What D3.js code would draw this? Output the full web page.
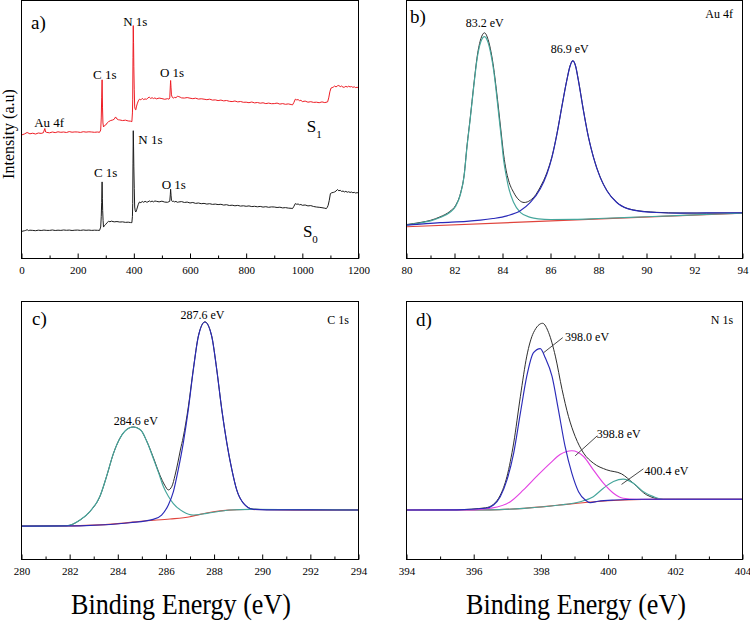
<!DOCTYPE html>
<html>
<head>
<meta charset="utf-8">
<script src="https://cdn.jsdelivr.net/npm/d3@7/dist/d3.min.js"></script>
<style>
	body { margin: 0; background: #fff; }
	svg { display: block; font-family: "Liberation Serif", "Times New Roman", serif; }
</style>
</head>
<body>
<svg id="chart" width="750" height="623"></svg>
<script>
"use strict";

// a) survey scans, [binding energy (eV), intensity (a.u.)]
const surveyS1 = [[0,123],[10,124],[20,125.5],[30,124.2],[40,124.8],[50,124],[60,125],[70,124.6],[78,125.3],[83,129.5],[86,126],[90,125.6],[100,125.2],[110,126],[120,125.4],[130,126.2],[140,125.7],[150,126],[160,125.5],[170,126.4],[180,125.8],[190,126.1],[200,126],[210,125.6],[220,126.3],[230,125.9],[240,126.2],[250,126],[260,125.7],[270,126],[278,125.7],[282,128],[284,140],[285.5,160],[287,178],[288.5,150],[290,135],[292,131],[296,132.5],[300,133],[305,135],[310,136.3],[318,137.5],[325,138],[330,138.7],[335,141],[340,139],[345,138.2],[350,138],[360,137.4],[370,137.8],[380,137],[388,136.8],[393,136.3],[395,145],[396,158],[397,200],[398,232],[399,215],[400,191],[401.5,168],[403,151],[405,148.5],[407,148],[409,151],[412,154],[416,157],[420,158.7],[425,158],[430,159.5],[435,158.3],[440,159],[445,158.5],[450,160],[455,160.7],[460,159.4],[465,160.2],[470,159.3],[475,160],[480,159],[490,159.8],[500,159.3],[510,158.6],[520,159.2],[525,158.7],[528,160],[530,172],[531,177.3],[532.5,170],[534,163],[537,160.5],[540,159.7],[545,160.5],[550,160.2],[555,161.5],[560,161.3],[565,160.7],[570,160],[580,159.8],[590,160.3],[600,159.7],[610,159.2],[620,159.7],[630,158.8],[640,159.1],[650,158.7],[660,158.2],[670,158.7],[680,157.8],[690,158],[700,157.3],[710,157.8],[720,157],[730,157.4],[740,156.6],[750,156.3],[760,156.9],[770,156],[780,156.4],[790,155.6],[800,155.7],[810,155.2],[820,155.9],[830,155],[840,155.4],[850,154.7],[860,155.1],[870,154.3],[880,154.8],[890,154.2],[900,154.3],[910,154.8],[920,153.8],[930,154.3],[940,153.6],[950,154],[960,153.4],[965,153],[970,155.5],[975,158.7],[980,158],[985,158.3],[990,157.2],[995,157.6],[1000,156.3],[1010,156.8],[1020,155.7],[1030,156.2],[1040,155.5],[1050,155.7],[1060,155.2],[1070,156],[1080,155.3],[1090,156],[1094,160],[1098,166],[1102,169.7],[1106,170.2],[1110,170.7],[1115,171.8],[1120,170.9],[1125,172],[1130,172.3],[1135,171.2],[1140,171.8],[1145,170.6],[1150,170.7],[1155,171.5],[1160,170.8],[1165,171.6],[1170,170.9],[1175,171.3],[1180,170.5],[1185,171],[1190,170.2],[1195,170.6],[1200,170]];
const surveyS0 = [[0,27],[10,27.6],[15,28],[20,28.7],[25,27.8],[30,28.2],[40,28],[50,27.7],[60,28.2],[70,27.9],[80,28.3],[90,28],[100,28],[110,28.4],[120,27.9],[130,28.2],[140,28],[150,28.4],[160,28.1],[170,28.3],[180,27.9],[190,28.2],[200,28.3],[210,28],[220,28.4],[230,28.1],[240,28.3],[250,28],[260,28.2],[270,28.1],[278,28],[282,31.3],[284,42],[285.5,56],[287,76.3],[288,60],[289,48],[290.5,38],[292,31.3],[296,33],[300,34],[305,35.8],[310,37],[315,36.6],[320,37.2],[330,36.5],[340,36.8],[350,36.3],[360,36.5],[370,36],[380,36.2],[388,35.8],[393,35.7],[395,42],[396,54.7],[397,95],[398,127.3],[399,112],[400,91.3],[401.5,70],[403,51.3],[405,47.5],[407,46.3],[410,48.5],[413,51.3],[416,54],[420,56.3],[425,55.6],[430,56.8],[435,56],[440,57],[445,56.2],[450,56.3],[455,57.4],[460,56.5],[465,57.2],[470,56.4],[475,57.3],[480,57],[490,56.4],[500,57.1],[510,56.2],[520,56],[525,56.6],[528,57],[530,64],[531,69],[532.5,63],[534,58],[537,56.8],[540,57.2],[545,56.4],[550,56.9],[555,56],[560,56.3],[570,56.7],[580,55.8],[590,56.2],[600,55.3],[610,55.8],[620,54.9],[630,55.3],[640,54.6],[650,54.9],[660,54.2],[670,54.6],[680,53.9],[690,54.2],[700,53.7],[710,54],[720,53.2],[730,53.6],[740,52.8],[750,53.1],[760,52.5],[770,52.9],[780,52.2],[790,52.5],[800,52],[810,52.4],[820,51.7],[830,52],[840,51.5],[850,51.9],[860,51.2],[870,51.6],[880,51],[890,51.4],[900,51.3],[910,50.8],[920,51.1],[930,50.4],[940,50.7],[950,50.2],[960,50],[965,49.7],[970,52],[975,54.7],[980,54],[985,54.3],[990,53.5],[995,53.8],[1000,53],[1010,53.3],[1020,52.4],[1030,52.7],[1040,51.8],[1050,51.3],[1060,51],[1070,50.6],[1080,50.1],[1085,49.7],[1088,50.5],[1092,53],[1096,58],[1100,64.7],[1105,65.5],[1110,65.8],[1115,66.3],[1120,67.2],[1125,68.7],[1130,67.5],[1135,67.9],[1140,66.8],[1145,67.2],[1150,66.3],[1155,66.9],[1160,66],[1165,66.5],[1170,65.8],[1175,66.2],[1180,65.5],[1185,65.9],[1190,65.2],[1195,65.6],[1200,65.3]];

// b) Au 4f fit
const au4fSum = [[80,33.8],[80.6,36],[81,38],[81.4,41.5],[81.8,46.8],[82.05,53],[82.25,65],[82.4,83],[82.52,112],[82.66,141],[82.8,172],[82.95,202],[83.1,219],[83.25,224.8],[83.4,218],[83.52,206],[83.63,190],[83.74,169],[83.84,148],[83.95,124],[84.05,103],[84.15,88],[84.25,78],[84.46,66],[84.7,58],[84.9,55.8],[85.16,58],[85.4,64],[85.57,71],[85.85,85.5],[86.06,101.5],[86.27,124.5],[86.47,151],[86.68,177.8],[86.82,192.3],[86.93,197],[87.04,192.3],[87.16,178],[87.37,148],[87.58,121.2],[87.79,101],[88.07,81.2],[88.35,67.8],[88.76,56],[89.45,48.4],[90.42,46],[91.4,45.3],[92.5,45.2],[94,45.3]];
const au4fBg = [[80,31.6],[94,45.2]];
const au4f72 = [[80,33.5],[80.6,35.5],[81,37.5],[81.4,40.8],[81.8,45.8],[82.05,52],[82.25,64],[82.4,82],[82.52,111],[82.66,140],[82.8,171],[82.95,200],[83.1,216],[83.25,221],[83.4,215],[83.52,203],[83.63,187.5],[83.74,166],[83.84,144],[83.95,120],[84.05,97.5],[84.15,83],[84.25,71],[84.46,56],[84.74,46],[85.16,41],[85.5,39.5],[86,38.8],[87,39],[88,39.8],[90,41.6],[92,43.4],[94,45.2]];
const au4f52 = [[80,33.3],[81.41,35.8],[82.5,37],[83.08,38.2],[83.6,39.8],[84.19,42.5],[84.74,47.5],[85.16,55.8],[85.57,69.2],[85.85,84.2],[86.06,100.8],[86.27,124.2],[86.47,150.8],[86.68,177.5],[86.82,192],[86.93,196.8],[87.04,192],[87.16,177.5],[87.37,147.5],[87.58,120.8],[87.79,100.8],[88.07,80.8],[88.35,67.5],[88.76,55.8],[89.45,48.2],[90.42,45.8],[91.4,45.2],[92.5,45.4],[94,45.6]];

// c) C 1s fit
const c1sSum = [[280,33.3],[281.87,33.6],[282.43,39.3],[282.85,48],[283.26,63],[283.55,84],[283.81,105],[284.05,119],[284.3,128],[284.64,132],[284.95,129],[285.2,118],[285.47,102],[285.75,84],[285.95,74],[286.1,69.3],[286.25,73],[286.38,84],[286.5,97],[286.6,109],[286.72,122],[286.93,152],[287.14,190],[287.35,223],[287.62,236.8],[287.9,222.8],[288.11,189.5],[288.32,149.5],[288.53,116.2],[288.74,89.5],[288.94,69.5],[289.22,56.2],[289.63,50.2],[290.19,49.7],[292,49.5],[294,49.4]];
const c1sBg = [[280,33.3],[282,33.4],[283,34.2],[284,35.8],[285.2,38.6],[286.17,40.3],[287,42.6],[287.42,45],[287.97,47.6],[288.6,49.2],[289.3,49.8],[290.5,49.6],[292,49.4],[294,49.3]];
const c1sCC = [[280,33.3],[281,33.3],[281.87,33.6],[282.43,39.3],[282.85,48],[283.26,63],[283.55,84],[283.81,105],[284.05,119],[284.3,128],[284.64,132],[284.95,129],[285.2,118],[285.47,101],[285.7,86],[285.89,73],[286.1,63],[286.3,56],[286.72,47.6],[287.14,44.3],[287.7,46],[288.66,49.3],[289.5,50],[291,49.8],[294,49.3]];
const c1sCN = [[280,33.3],[282.43,33.5],[284.5,36.6],[285.47,40],[285.82,44.3],[286.1,54.3],[286.31,67.6],[286.51,89.3],[286.72,116],[286.93,149.3],[287.14,189.3],[287.35,222.6],[287.62,236.6],[287.9,222.6],[288.11,189.3],[288.32,149.3],[288.53,116],[288.74,89.3],[288.94,69.3],[289.22,56],[289.63,50],[290.19,49.5],[292,49.4],[294,49.3]];

// d) N 1s fit
const n1sSum = [[394,49.3],[395.5,49.6],[396.35,51.5],[396.59,55],[396.79,64],[396.99,82.6],[397.19,116],[397.39,162.6],[397.58,202.6],[397.78,226],[398.05,235.3],[398.23,226],[398.43,202.6],[398.63,169.3],[398.82,142.6],[399.02,122.6],[399.27,106],[399.56,96],[399.96,89.3],[400.4,85.3],[400.75,76],[401.15,64.3],[401.64,60],[402,60],[404,60]];
const n1sBg = [[394,49.3],[396.5,49.5],[397.5,51],[398.5,54],[399.5,57.3],[400.5,59.3],[401.5,60],[402,60],[404,60]];
const n1s400 = [[394,49.3],[396.5,49.5],[397.5,51],[398.5,54],[399.17,57.6],[399.56,62.6],[399.86,71],[400.16,77.6],[400.45,80],[400.75,76],[401.05,67.6],[401.35,62.6],[401.64,60],[402,60],[404,60]];
const n1s398_8 = [[394,49.3],[396,49.5],[396.5,51],[397.09,57.6],[397.48,69.3],[397.88,83],[398.28,96],[398.57,104.5],[398.92,108.3],[399.27,102.6],[399.56,89.3],[399.86,76],[400.16,66],[400.45,61],[400.85,60],[402,60],[404,60]];
const n1s398_0 = [[394,49.3],[395.5,49.5],[396.35,51],[396.59,54.3],[396.79,62.6],[396.99,79.3],[397.19,106],[397.39,146],[397.58,182.6],[397.78,206],[397.98,210],[398.13,201],[398.33,182.6],[398.52,149.3],[398.72,112.6],[398.92,86],[399.12,67.6],[399.32,59.3],[399.47,56.6],[399.7,58],[400.2,59.3],[401,60],[402,60],[404,60]];

// tick values
const ticksA = [0, 200, 400, 600, 800, 1000, 1200], minorA = [100, 300, 500, 700, 900, 1100];
const ticksB = [80, 82, 84, 86, 88, 90, 92, 94], minorB = [81, 83, 85, 87, 89, 91, 93];
const ticksC = [280, 282, 284, 286, 288, 290, 292, 294], minorC = [281, 283, 285, 287, 289, 291, 293];
const ticksD = [394, 396, 398, 400, 402, 404], minorD = [395, 397, 399, 401, 403];

const col = {
	red: '#ee1d25', black: '#1c1c1c', sum: '#2e2e2e', bg: '#e0443c',
	teal: '#46a69c', blue: '#2a2ab8', magenta: '#e342e3'
};

!(function(){
	let svg = d3.select('#chart');

	let panels = [
		{ letter: 'a)', lx: 31, ly: 29, box: [21.5, 0.5, 358.5, 258.5], dom: [0, 1200], ticks: ticksA, minor: minorA, curve: d3.curveLinear,
		  lines: [[surveyS1, col.red], [surveyS0, col.black]] },
		{ letter: 'b)', lx: 410, ly: 23, box: [406.5, 0.5, 742.5, 258.5], dom: [80, 94], ticks: ticksB, minor: minorB, curve: d3.curveMonotoneX,
		  lines: [[au4fSum, col.sum], [au4fBg, col.bg], [au4f72, col.teal], [au4f52, col.blue]],
		  notes: [['83.2 eV', 83.26, 231, 'middle'], ['86.9 eV', 86.8, 205, 'middle'], ['Au 4f', 93.6, 239.5, 'end']] },
		{ letter: 'c)', lx: 32, ly: 325, box: [21.5, 301.5, 358.5, 559.5], dom: [280, 294], ticks: ticksC, minor: minorC, curve: d3.curveMonotoneX,
		  lines: [[c1sSum, col.sum], [c1sBg, col.bg], [c1sCC, col.teal], [c1sCN, col.blue]],
		  notes: [['287.6 eV', 287.52, 239.3, 'middle'], ['284.6 eV', 284.75, 134.3, 'middle'], ['C 1s', 293.6, 234.3, 'end']] },
		{ letter: 'd)', lx: 416, ly: 326, box: [406.5, 301.5, 742.5, 559.5], dom: [394, 404], ticks: ticksD, minor: minorD, curve: d3.curveMonotoneX,
		  lines: [[n1sSum, col.sum], [n1sBg, col.bg], [n1s400, col.teal], [n1s398_8, col.magenta], [n1s398_0, col.blue]],
		  notes: [['398.0 eV', 398.72, 217.6, 'start', [398.65, 221, 398.08, 206]],
				  ['398.8 eV', 399.66, 121.3, 'start', [399.68, 123.3, 399.02, 103.3]],
				  ['400.4 eV', 401.08, 84.3, 'start', [401.05, 90.3, 400.4, 74.8]],
				  ['N 1s', 403.72, 235, 'end']] }
	];

	panels.forEach((p) => {
		let [x0, y0, x1, y1] = p.box,
			x = d3.scaleLinear().domain(p.dom).range([x0, x1]),
			y = d3.scaleLinear().domain([0, 257]).range([y1, y0]),
			g = svg.append('g'),
			line = d3.line().x(d => x(d[0])).y(d => y(d[1])).curve(p.curve);

		p.lines.forEach(([data, c], i) => {
			g.append('path').datum(data)
				.attr('d', line)
				.attr('fill', 'none')
				.attr('stroke', c)
				.attr('stroke-width', (p.letter !== 'a)' && i > 0) ? 1.15 : 1)
				.attr('stroke-linejoin', 'round');
		});

		// frame
		g.append('rect')
			.attr('x', x0).attr('y', y0)
			.attr('width', x1 - x0).attr('height', y1 - y0)
			.attr('fill', 'none').attr('stroke', '#000').attr('stroke-width', 1);

		let ax = g.append('g').attr('transform', `translate(0,${y1})`)
			.call(d3.axisBottom(x).tickValues(p.ticks).tickSizeInner(-5).tickSizeOuter(0).tickPadding(8).tickFormat(d3.format('d')));
		ax.select('.domain').remove();
		ax.selectAll('text').attr('font-size', 11).attr('font-family', '"Liberation Serif", serif').attr('fill', '#000');

		let mx = g.append('g').attr('transform', `translate(0,${y1})`)
			.call(d3.axisBottom(x).tickValues(p.minor).tickSizeInner(-3).tickSizeOuter(0).tickFormat(''));
		mx.select('.domain').remove();

		g.append('text').attr('x', p.lx).attr('y', p.ly)
			.attr('font-size', 19).text(p.letter);

		(p.notes || []).forEach((n) => {
			g.append('text')
				.attr('x', x(n[1])).attr('y', y(n[2]))
				.attr('text-anchor', n[3])
				.attr('font-size', 12)
				.text(n[0]);
			if (n[4]) {
				g.append('line')
					.attr('x1', x(n[4][0])).attr('y1', y(n[4][1]))
					.attr('x2', x(n[4][2])).attr('y2', y(n[4][3]))
					.attr('stroke', '#333').attr('stroke-width', 0.9);
			}
		});

		if (p.letter === 'a)') {
			let peaks = [['N 1s', 362, 232], ['C 1s', 255, 179], ['O 1s', 493, 180.7], ['Au 4f', 45, 131.3],
						 ['N 1s', 416, 114], ['C 1s', 258, 81.3], ['O 1s', 499, 69.7]];
			peaks.forEach((n) => {
				g.append('text').attr('x', x(n[1])).attr('y', y(n[2]))
					.attr('font-size', 13).text(n[0]);
			});
			[['1', 1016, 126.3], ['0', 1002, 21.3]].forEach((s) => {
				let t = g.append('text').attr('x', x(s[1])).attr('y', y(s[2])).attr('font-size', 17);
				t.append('tspan').text('S');
				t.append('tspan').attr('font-size', 11).attr('dy', 6).text(s[0]);
			});
		}
	});

	svg.append('text')
		.attr('transform', 'translate(13.5,134) rotate(-90)')
		.attr('text-anchor', 'middle')
		.attr('font-size', 16)
		.text('Intensity (a.u)');

	// the x titles are set tall and narrow in the original
	[181, 576].forEach((cx) => {
		svg.append('text')
			.attr('x', cx).attr('y', 614)
			.attr('text-anchor', 'middle')
			.attr('font-size', 30)
			.attr('textLength', 220)
			.attr('lengthAdjust', 'spacingAndGlyphs')
			.text('Binding Energy (eV)');
	});
}());
</script>
</body>
</html>
